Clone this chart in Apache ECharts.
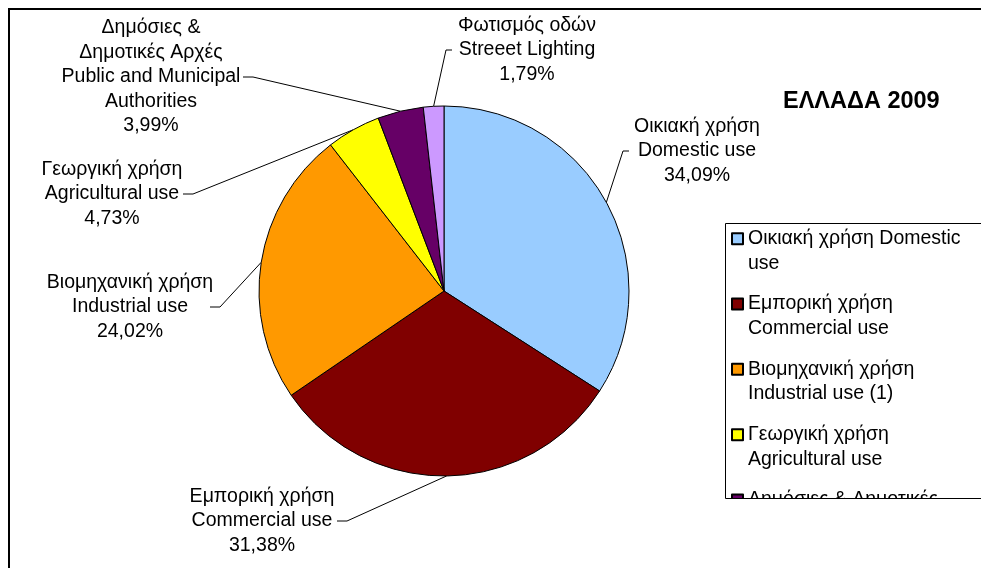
<!DOCTYPE html>
<html>
<head>
<meta charset="utf-8">
<script src="https://cdn.jsdelivr.net/npm/echarts@6/dist/echarts.min.js"></script>
<style>
  html, body { margin: 0; padding: 0; background: #fff; }
  #main { width: 981px; height: 568px; }
</style>
</head>
<body>
<div id="main"></div>
<script>
  // data
  const categories = [
    'Οικιακή χρήση Domestic use',
    'Εμπορική χρήση Commercial use',
    'Βιομηχανική χρήση Industrial use',
    'Γεωργική χρήση Agricultural use',
    'Δημόσιες & Δημοτικές Αρχές Public and Municipal Authorities',
    'Φωτισμός οδών Streeet Lighting'
  ]
  const shares = [34.09, 31.38, 24.02, 4.73, 3.99, 1.79]
  const pieLabels = [
    'Οικιακή χρήση\nDomestic use',
    'Εμπορική χρήση\nCommercial use',
    'Βιομηχανική χρήση\nIndustrial use',
    'Γεωργική χρήση\nAgricultural use',
    'Δημόσιες &\nΔημοτικές Αρχές\nPublic and Municipal\nAuthorities',
    'Φωτισμός οδών\nStreeet Lighting'
  ]
  const legendLabels = [
    'Οικιακή χρήση Domestic\nuse',
    'Εμπορική χρήση\nCommercial use',
    'Βιομηχανική χρήση\nIndustrial use (1)',
    'Γεωργική χρήση\nAgricultural use',
    'Δημόσιες & Δημοτικές\nΑρχές Public and',
    'Φωτισμός οδών\nStreeet Lighting'
  ]
  const colors = ['#99ccff', '#800000', '#ff9900', '#ffff00', '#660066', '#cc99ff']

  // where each label sits (centre of text block) and how its leader line bends
  const labelPlaces = [
    { x: 697, y: 151, elbow: [623, 151], end: [629, 151] },
    { x: 262, y: 521, elbow: [347, 521], end: [337, 521] },
    { x: 130, y: 307, elbow: [220, 307], end: [210, 307] },
    { x: 112, y: 194, elbow: [193, 194], end: [183, 194] },
    { x: 151, y: 77, elbow: [253, 77], end: [243, 77] },
    { x: 527, y: 50, elbow: [446, 50], end: [452, 50] }
  ]

  const font = "'Liberation Sans', Arial, sans-serif"
  const pct = v => v.toFixed(2).replace('.', ',') + '%'

  const chart = echarts.init(document.getElementById('main'))
  const option = {
    animation: false,
    color: colors,
    title: {
      text: 'ΕΛΛΑΔΑ 2009',
      left: 783,
      top: 90,
      padding: 0,
      textStyle: { fontFamily: font, fontSize: 23.5, fontWeight: 'bold', color: '#000' }
    },
    legend: {
      orient: 'vertical',
      left: 731,
      top: 202,
      height: 560,
      padding: 0,
      itemGap: -8.2,
      itemWidth: 11,
      itemHeight: 11,
      icon: 'rect',
      selectedMode: false,
      data: categories,
      // empty first line so the icon lines up with the first text line
      formatter: name => '\n' + legendLabels[categories.indexOf(name)],
      textStyle: {
        fontFamily: font, fontSize: 19.5, lineHeight: 24.5, color: '#000'
      }
    },
    graphic: [
      // outer frame
      {
        type: 'rect', z: 100, silent: true,
        shape: { x: 9, y: 9, width: 1000, height: 600 },
        style: { fill: 'none', stroke: '#000', lineWidth: 2 }
      },
      // cut legend off below its box
      {
        type: 'rect', z: 100, silent: true,
        shape: { x: 725.5, y: 499, width: 256, height: 100 },
        style: { fill: '#fff' }
      },
      {
        type: 'rect', z: 101, silent: true,
        shape: { x: 725.5, y: 223.5, width: 260, height: 275 },
        style: { fill: 'none', stroke: '#000', lineWidth: 1 }
      }
    ],
    series: [
      {
        type: 'pie',
        center: [444, 291],
        radius: 185,
        startAngle: 90,
        clockwise: true,
        avoidLabelOverlap: false,
        itemStyle: { borderColor: '#000', borderWidth: 1 },
        label: {
          show: true,
          position: 'outside',
          fontFamily: font,
          fontSize: 19.5,
          lineHeight: 24.5,
          color: '#000',
          formatter: p => pieLabels[p.dataIndex] + '\n' + pct(p.value)
        },
        labelLine: {
          show: true,
          length: 10,
          length2: 10,
          lineStyle: { color: '#000', width: 1 }
        },
        labelLayout: params => {
          const pl = labelPlaces[params.dataIndex]
          return {
            x: pl.x,
            y: pl.y,
            align: 'center',
            verticalAlign: 'middle',
            labelLinePoints: [params.labelLinePoints[0], pl.elbow, pl.end]
          }
        },
        emphasis: { disabled: true },
        data: categories.map((c, i) => ({ name: c, value: shares[i] }))
      }
    ]
  }
  chart.setOption(option)
</script>
</body>
</html>
